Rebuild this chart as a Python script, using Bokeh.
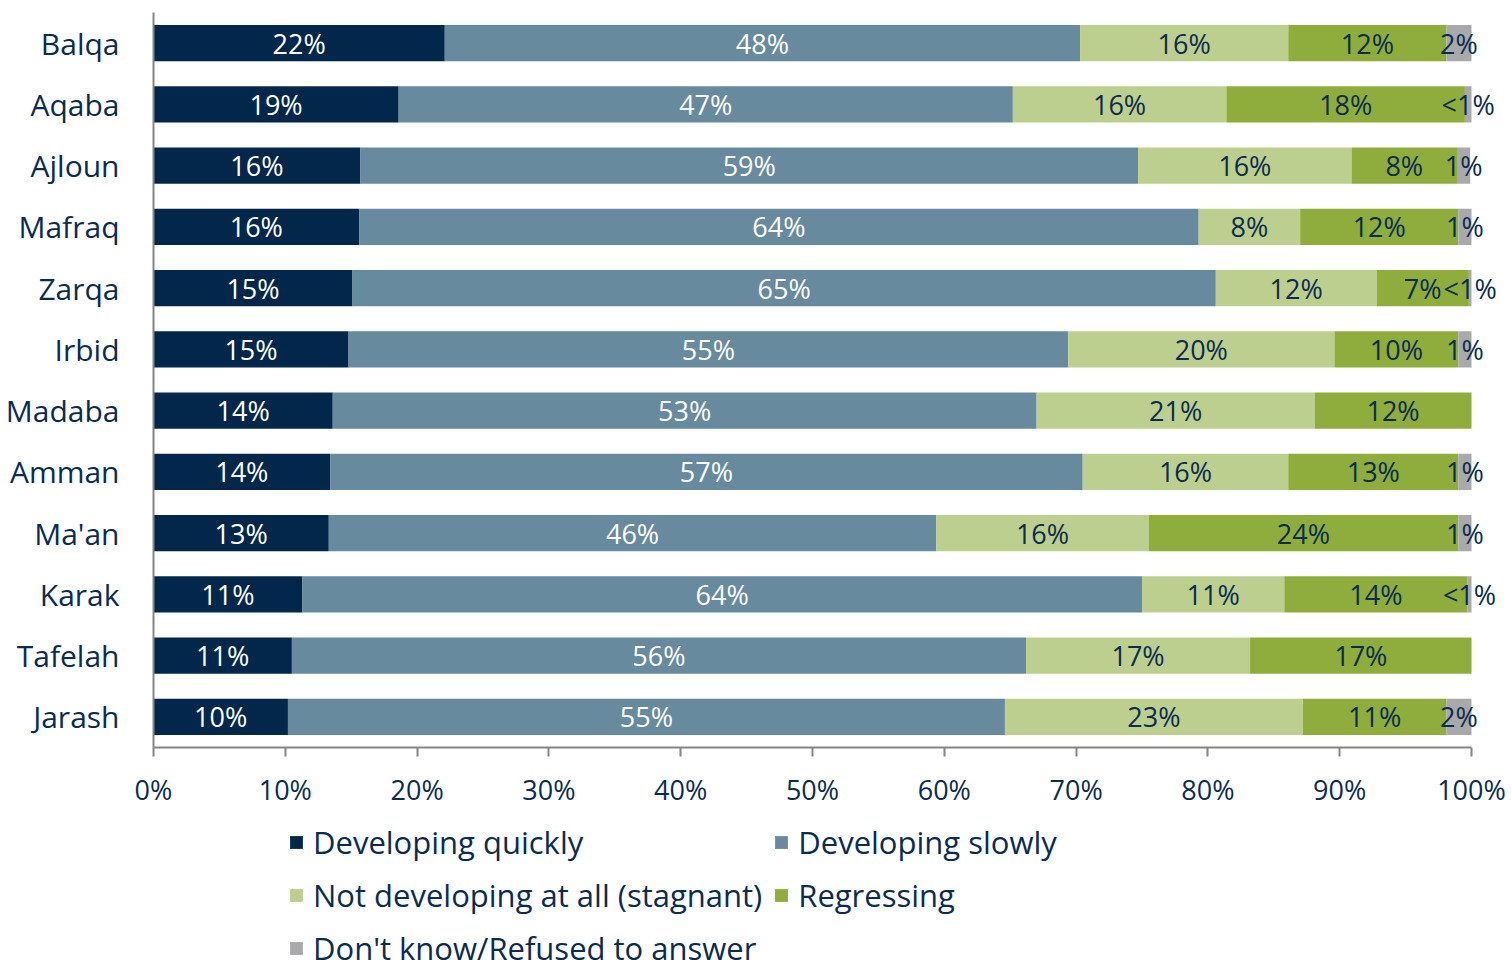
from bokeh.plotting import figure
from bokeh.layouts import column
from bokeh.models import (ColumnDataSource, FactorRange, Legend, LegendItem, NumeralTickFormatter,
                          FixedTicker, LabelSet)
from bokeh.core.properties import value
from bokeh.embed import file_html
from bokeh.resources import INLINE

regions = ["Balqa", "Aqaba", "Ajloun", "Mafraq", "Zarqa", "Irbid", "Madaba",
           "Amman", "Ma'an", "Karak", "Tafelah", "Jarash"]

quickly   = [22.1, 18.6, 15.7, 15.6, 15.1, 14.8, 13.6, 13.4, 13.3, 11.3, 10.5, 10.2]
slowly    = [48.2, 46.6, 59.0, 63.7, 65.5, 54.6, 53.4, 57.1, 46.1, 63.7, 55.7, 54.4]
stagnant  = [15.8, 16.2, 16.2,  7.7, 12.2, 20.2, 21.1, 15.6, 16.1, 10.8, 17.0, 22.6]
regress   = [12.0, 18.1,  8.0, 12.0,  7.0,  9.4, 11.9, 12.9, 23.5, 13.9, 16.8, 10.9]
dontknow  = [ 1.9,  0.5,  1.0,  1.0,  0.2,  1.0,  0.0,  1.0,  1.0,  0.3,  0.0,  1.9]

lab_quickly  = ["22%", "19%", "16%", "16%", "15%", "15%", "14%", "14%", "13%", "11%", "11%", "10%"]
lab_slowly   = ["48%", "47%", "59%", "64%", "65%", "55%", "53%", "57%", "46%", "64%", "56%", "55%"]
lab_stagnant = ["16%", "16%", "16%", "8%", "12%", "20%", "21%", "16%", "16%", "11%", "17%", "23%"]
lab_regress  = ["12%", "18%", "8%", "12%", "7%", "10%", "12%", "13%", "24%", "14%", "17%", "11%"]
lab_dontknow = ["2%", "<1%", "1%", "1%", "<1%", "1%", "", "1%", "1%", "<1%", "", "2%"]

series_names = ["Developing quickly", "Developing slowly", "Not developing at all (stagnant)",
                "Regressing", "Don't know/Refused to answer"]
keys = ["quickly", "slowly", "stagnant", "regress", "dontknow"]
colors = ["#02274A", "#678A9E", "#BDCF8F", "#8FAD3D", "#A9A9AB"]
label_colors = ["#FFFFFF", "#FFFFFF", "#0B2C4F", "#0B2C4F", "#0B2C4F"]
values = [quickly, slowly, stagnant, regress, dontknow]
labels = [lab_quickly, lab_slowly, lab_stagnant, lab_regress, lab_dontknow]

FONT = "Open Sans"
NAVY = "#0B2C4F"
AXIS_GRAY = "#858585"
W = 1511
MAIN_H = 820
FRAME_L, FRAME_100 = 153, 1471      # pixel position of 0% and 100%
FRAME_R = 1507                       # frame extends past 100% so end labels are not clipped
FRAME_T, FRAME_B = 12, 747
XMAX = (FRAME_R - FRAME_L) / (FRAME_100 - FRAME_L)

data = {"region": regions}
for k, v in zip(keys, values):
    data[k] = [x / 100.0 for x in v]
source = ColumnDataSource(data)

p = figure(width=W, height=MAIN_H, output_backend="svg", toolbar_location=None,
           y_range=FactorRange(factors=list(reversed(regions))),
           x_range=(0, XMAX))
p.min_border_left = FRAME_L
p.min_border_right = W - FRAME_R
p.min_border_top = FRAME_T
p.min_border_bottom = MAIN_H - FRAME_B
p.outline_line_color = None
p.xgrid.visible = False
p.ygrid.visible = False
p.background_fill_color = "white"
p.border_fill_color = "white"

renderers = p.hbar_stack(keys, y="region", height=0.59, color=colors, source=source,
                         line_color=None)

# segment labels
cum = [0.0] * len(regions)
for vals, labs, lc in zip(values, labels, label_colors):
    xs, ys, ts = [], [], []
    for i, (v, t) in enumerate(zip(vals, labs)):
        start = cum[i]
        cum[i] += v / 100.0
        if t:
            xs.append((start + cum[i]) / 2)
            ys.append(regions[i])
            ts.append(t)
    src = ColumnDataSource(dict(x=xs, y=ys, t=ts))
    ls = LabelSet(x="x", y="y", text="t", source=src, text_align="center",
                  text_baseline="middle", text_color=lc, text_font=value(FONT),
                  text_font_size="27px")
    p.add_layout(ls)

# axes
p.xaxis.bounds = (0, 1)
p.xaxis.ticker = FixedTicker(ticks=[i / 10 for i in range(11)])
p.xaxis.formatter = NumeralTickFormatter(format="0%")
p.xaxis.axis_line_color = AXIS_GRAY
p.xaxis.axis_line_width = 2
p.xaxis.major_tick_line_color = AXIS_GRAY
p.xaxis.major_tick_line_width = 2
p.xaxis.major_tick_out = 9
p.xaxis.major_tick_in = 0
p.xaxis.minor_tick_line_color = None
p.xaxis.major_label_text_font = FONT
p.xaxis.major_label_text_font_size = "27px"
p.xaxis.major_label_text_color = NAVY
p.xaxis.major_label_standoff = 14

p.yaxis.axis_line_color = AXIS_GRAY
p.yaxis.axis_line_width = 2
p.yaxis.major_tick_line_color = None
p.yaxis.minor_tick_line_color = None
p.yaxis.major_label_text_font = FONT
p.yaxis.major_label_text_font_size = "30px"
p.yaxis.major_label_text_color = NAVY
p.yaxis.major_label_standoff = 28

# legend figure below the chart
lf = figure(width=W, height=969 - MAIN_H, output_backend="svg", toolbar_location=None,
            x_range=(0, 1), y_range=(0, 1), x_axis_type=None, y_axis_type=None)
lf.min_border = 0
lf.outline_line_color = None
lf.xgrid.visible = False
lf.ygrid.visible = False
lf.border_fill_color = "white"
nan = float("nan")
proxy = ColumnDataSource(dict(x=[nan], y=[nan]))
legend_items = {}
for n, c in zip(series_names, colors):
    r = lf.hbar(y="y", right="x", height=0.1, source=proxy,
                fill_color=c, line_color=None)
    legend_items[n] = LegendItem(label=n, renderers=[r])
# legend fills column by column: order so rows read quickly/slowly, stagnant/regressing, DK
order = [series_names[0], series_names[2], series_names[4], series_names[1], series_names[3]]
legend = Legend(items=[legend_items[n] for n in order], ncols=2, location=(135, 0),
                label_text_font=FONT, label_text_font_size="31px", label_text_color=NAVY,
                glyph_width=16, glyph_height=16, label_standoff=9, label_height=30,
                spacing=11, padding=0, margin=0, border_line_color=None,
                background_fill_alpha=0)
lf.add_layout(legend, "center")

layout = column(p, lf, spacing=0)
open("out.html", "w").write(file_html(layout, INLINE))
